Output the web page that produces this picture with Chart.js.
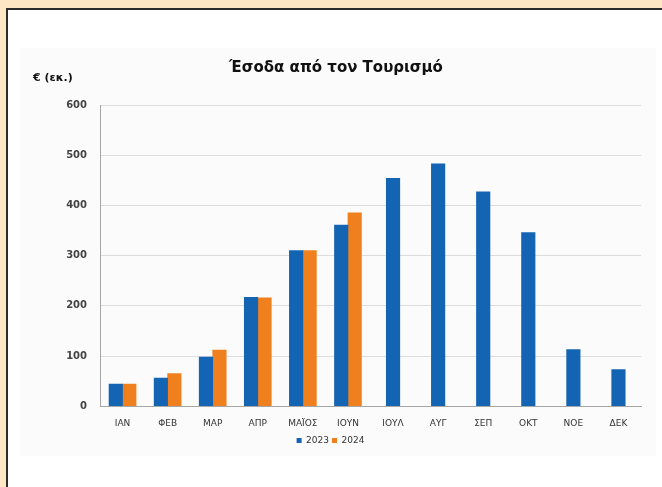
<!DOCTYPE html>
<html>
<head>
<meta charset="utf-8">
<script src="https://cdn.jsdelivr.net/npm/chart.js@4"></script>
<style>
  body { margin: 0; background: #ffffff; overflow: hidden; }
  #wrap { width: 662px; height: 487px; position: relative; }
</style>
</head>
<body>
<div id="wrap"><canvas id="tourismChart" width="662" height="487"></canvas></div>
<script>
// months + revenue (million €)
const months = ['ΙΑΝ', 'ΦΕΒ', 'ΜΑΡ', 'ΑΠΡ', 'ΜΑΪΟΣ', 'ΙΟΥΝ', 'ΙΟΥΛ', 'ΑΥΓ', 'ΣΕΠ', 'ΟΚΤ', 'ΝΟΕ', 'ΔΕΚ'];
const rev2023 = [44, 56, 98, 217, 310, 361, 454, 483, 427, 346, 113, 73];
const rev2024 = [44, 65, 112, 216, 310, 385, null, null, null, null, null, null];
const yTicks = [0, 100, 200, 300, 400, 500, 600];

const frame = {
    id: 'frame',
    beforeDraw(chart) {
        const c = chart.ctx;
        c.save();
        c.fillStyle = '#fde6c4';
        c.fillRect(0, 0, chart.width, chart.height);
        c.fillStyle = '#ffffff';
        c.fillRect(6, 8, chart.width - 6, chart.height - 8);
        c.fillStyle = '#fbfbfb';
        c.fillRect(20, 48, 636, 408);
        c.strokeStyle = '#2b2b2b';
        c.lineWidth = 2;
        c.beginPath();
        c.moveTo(7, chart.height);
        c.lineTo(7, 9);
        c.lineTo(chart.width + 2, 9);
        c.stroke();
        c.restore();
    },
    afterDraw(chart) {
        const c = chart.ctx;
        c.save();
        c.fillStyle = '#111111';
        c.textBaseline = 'middle';
        c.font = 'bold 15px "DejaVu Sans"';
        c.textAlign = 'center';
        c.fillText('Έσοδα από τον Τουρισμό', 336, 68);
        c.font = 'bold 11px "DejaVu Sans"';
        c.textAlign = 'left';
        c.fillText('€ (εκ.)', 33, 78);
        c.restore();
    }
};

const ctx = document.getElementById('tourismChart').getContext('2d');
const tourismChart = new Chart(ctx, {
    type: 'bar',
    data: {
        labels: months,
        datasets: [{
            label: '2023',
            data: rev2023,
            backgroundColor: '#1464b4',
            barThickness: 13.5
        }, {
            label: '2024',
            data: rev2024,
            backgroundColor: '#f0801e',
            barThickness: 13.5
        }]
    },
    options: {
        responsive: false,
        animation: false,
        skipNull: true,
        layout: { padding: { left: 20, right: 21, top: 105, bottom: 32 } },
        scales: {
            x: {
                grid: { display: false },
                border: { color: '#a6a6a6' },
                ticks: { color: '#333', font: { family: 'DejaVu Sans', size: 9 }, padding: 4, maxRotation: 0 }
            },
            y: {
                min: 0,
                max: 600,
                afterFit(scale) { scale.width = 80; },
                afterBuildTicks(scale) { scale.ticks = yTicks.map(v => ({ value: v })); },
                grid: { color: '#dcdcdc', drawTicks: false },
                border: { color: '#a6a6a6' },
                ticks: { color: '#444', font: { family: 'DejaVu Sans', size: 10, weight: 'bold' }, padding: 13 }
            }
        },
        plugins: {
            legend: {
                position: 'bottom',
                labels: {
                    usePointStyle: true,
                    pointStyle: 'rect',
                    boxWidth: 5,
                    boxHeight: 5,
                    padding: 3,
                    color: '#333',
                    font: { family: 'DejaVu Sans', size: 9 }
                }
            },
            tooltip: { enabled: false }
        }
    },
    plugins: [frame]
});
</script>
</body>
</html>
